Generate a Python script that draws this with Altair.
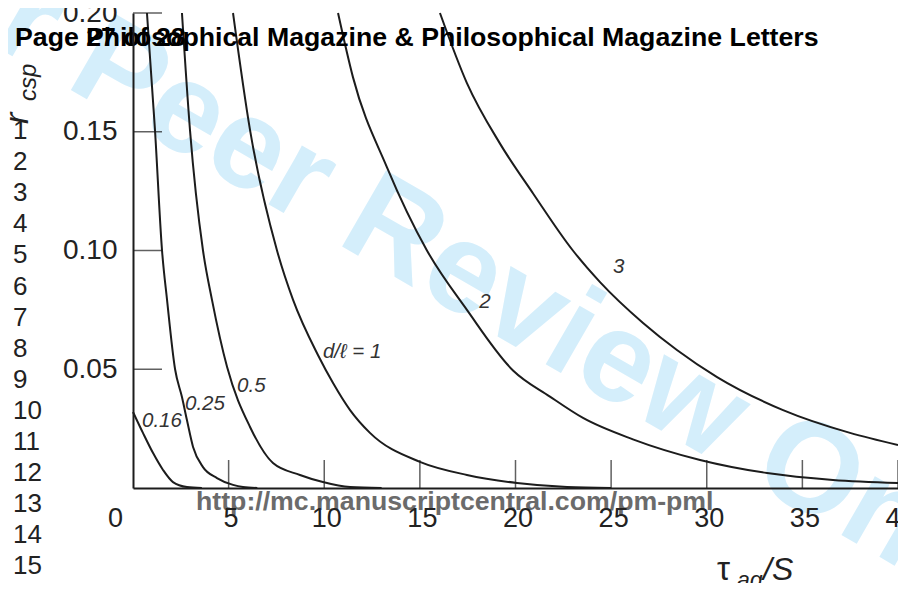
import altair as alt
import pandas as pd

# ---- data ----------------------------------------------------------------
curve_names = ["0.16", "0.25", "0.5", "1", "2", "3"]

x_016 = [0.0, 0.52, 1.05, 1.57, 2.09, 2.82, 3.6]
y_016 = [0.032, 0.0232, 0.0147, 0.0076, 0.0025, 0.0004, 0.0]

x_025 = [0.73, 1.15, 1.52, 1.78, 2.20, 2.56, 2.82, 3.14, 3.66, 4.39, 5.23, 5.75, 6.5]
y_025 = [0.200, 0.1507, 0.0998, 0.0792, 0.0500, 0.0383, 0.0286, 0.0173, 0.0088, 0.0042, 0.0013, 0.0004, 0.0]

x_05 = [2.56, 2.98, 3.66, 4.13, 4.92, 6.12, 7.32, 8.73, 9.93, 11.35, 13.0]
y_05 = [0.200, 0.1507, 0.100, 0.0792, 0.0509, 0.0257, 0.0105, 0.0055, 0.0025, 0.0004, 0.0]

x_1 = [5.23, 6.12, 7.53, 8.37, 9.67, 10.46, 11.35, 12.39, 15.0, 17.46, 20.08, 22.7, 25.0]
y_1 = [0.200, 0.1507, 0.100, 0.0792, 0.056, 0.0442, 0.0328, 0.0232, 0.011, 0.0055, 0.0021, 0.0004, 0.0]

x_2 = [10.72, 11.5, 13.28, 15.37, 17.46, 19.87, 21.8, 23.53, 26.14, 29.65, 33.15, 36.6, 40.0]
y_2 = [0.200, 0.173, 0.135, 0.100, 0.075, 0.0495, 0.0385, 0.0295, 0.0205, 0.0118, 0.0063, 0.0034, 0.0021]

x_3 = [16.05, 17.46, 19.19, 20.92, 23.0, 24.42, 26.67, 28.44, 30.54, 33.99, 37.49, 40.0]
y_3 = [0.200, 0.1705, 0.145, 0.124, 0.100, 0.0867, 0.0695, 0.0581, 0.0467, 0.0328, 0.0232, 0.0181]

curve_x = [x_016, x_025, x_05, x_1, x_2, x_3]
curve_y = [y_016, y_025, y_05, y_1, y_2, y_3]

# curve annotations (anchored in data units)
label_text = ["0.16", "0.25", "0.5", "d/\u2113 = 1", "2", "3"]
label_x = [0.47, 2.72, 5.44, 9.93, 18.1, 25.1]
label_y = [0.0257, 0.0328, 0.0404, 0.0547, 0.0758, 0.0905]

x_label_values = [0, 5, 10, 15, 20, 25, 30, 35, 40]
x_tick_values = [5, 10, 15, 20, 25, 30, 35, 40]
y_tick_values = [0.05, 0.10, 0.15, 0.20]

line_numbers = list(range(1, 16))
header_page = "Page 27 of 28"
header_journal = "Philosophical Magazine & Philosophical Magazine Letters"
footer_url = "http://mc.manuscriptcentral.com/pm-pml"
watermark_text = "For Peer Review Only"

# ---- tables ---------------------------------------------------------------
rows = []
for name, xs, ys in zip(curve_names, curve_x, curve_y):
    for xv, yv in zip(xs, ys):
        rows.append({"curve": name, "x": xv, "y": yv})
curves_df = pd.DataFrame(rows)
labels_df = pd.DataFrame({"t": label_text, "x": label_x, "y": label_y})

FONT = "Liberation Sans"
INK = "#1c1c1c"
W, H = 765, 475

xscale = alt.Scale(domain=[0, 40], nice=False, zero=False)
yscale = alt.Scale(domain=[0, 0.2], nice=False, zero=False)

watermark = alt.Chart(pd.DataFrame({"t": [watermark_text]})).mark_text(
    angle=30, fontSize=128, fontWeight="bold", font=FONT, color="#d4eefb",
    align="center", baseline="middle"
).encode(text="t:N", x=alt.value(310), y=alt.value(248))

lines = alt.Chart(curves_df).mark_line(
    color=INK, strokeWidth=2, interpolate="monotone"
).encode(
    x=alt.X("x:Q", scale=xscale, title=None,
            axis=alt.Axis(values=x_label_values, labelFontSize=27, labelFont=FONT,
                          labelColor="#222222", labelPadding=17, ticks=False, tickSize=0,
                          domainColor=INK, domainWidth=2, grid=False,
                          labelOffset={"condition": {"test": "datum.value === 0", "value": -18},
                                       "value": 2},
                          labelFlush=False, labelOverlap=False, zindex=1)),
    y=alt.Y("y:Q", scale=yscale, title=None,
            axis=alt.Axis(values=y_tick_values, format=".2f", labelFontSize=28, labelFont=FONT,
                          labelColor="#222222", labelPadding=16, ticks=False, tickSize=0,
                          domainColor=INK, domainWidth=2, grid=False,
                          labelFlush=False, labelOverlap=False, zindex=1)),
    detail="curve:N",
)

yticks = alt.Chart(pd.DataFrame({"v": y_tick_values})).mark_tick(
    orient="horizontal", size=29, thickness=1.5, color=INK, xOffset=14.5
).encode(y=alt.Y("v:Q", scale=yscale, title=None), x=alt.value(0))

xticks = alt.Chart(pd.DataFrame({"v": x_tick_values})).mark_tick(
    orient="vertical", size=28, thickness=1.5, color=INK, yOffset=-14
).encode(x=alt.X("v:Q", scale=xscale, title=None), y=alt.value(H))

curve_labels = alt.Chart(labels_df).mark_text(
    align="left", baseline="alphabetic", fontSize=20.5, fontStyle="italic",
    font=FONT, color="#333333"
).encode(x=alt.X("x:Q", scale=xscale, title=None),
         y=alt.Y("y:Q", scale=yscale, title=None), text="t:N")

def txt(s, x, y, **kw):
    return alt.Chart(pd.DataFrame({"t": [s]})).mark_text(font=FONT, **kw).encode(
        text="t:N", x=alt.value(x), y=alt.value(y))

header1 = txt(header_page, -118, 32.5, align="left", baseline="alphabetic",
              fontSize=26.7, fontWeight="bold", color="#000000")
header2 = txt(header_journal, -47, 32.5, align="left", baseline="alphabetic",
              fontSize=26.7, fontWeight="bold", color="#000000")
footer = txt(footer_url, 63, 497, align="left", baseline="alphabetic",
             fontSize=26.7, fontWeight="bold", color="#6b6b6b")

ytitle_r = txt("r", -105, 111, align="left", baseline="alphabetic", angle=270,
               fontSize=34, fontStyle="italic", color="#222222")
ytitle_sub = txt("csp", -97, 88, align="left", baseline="alphabetic", angle=270,
                 fontSize=24, fontStyle="italic", color="#222222")

xtitle_tau = txt("\u03c4", 584, 567, align="left", baseline="alphabetic",
                 fontSize=33, color="#222222")
xtitle_sub = txt("ag", 604, 575, align="left", baseline="alphabetic",
                 fontSize=23, fontStyle="italic", color="#222222")
xtitle_s = txt("/S", 630, 567, align="left", baseline="alphabetic",
               fontSize=32, fontStyle="italic", color="#222222")

linenums = alt.Chart(pd.DataFrame({"n": line_numbers})).transform_calculate(
    py="118 + 31.1 * (datum.n - 1)"
).mark_text(align="left", baseline="middle", fontSize=26, font=FONT, color="#222222").encode(
    text="n:N", x=alt.value(-120), y=alt.Y("py:Q", scale=None, axis=None, title=None))

chart = alt.layer(
    watermark, lines, yticks, xticks, curve_labels, linenums,
    ytitle_r, ytitle_sub, xtitle_tau, xtitle_sub, xtitle_s,
    header1, header2, footer,
).properties(
    width=W, height=H,
    padding={"left": 125, "top": 5, "right": 0, "bottom": 95},
    autosize=alt.AutoSizeParams(type="none"),
    background="white",
).configure_view(stroke=None)

chart.save("out.html", embed_options={"renderer": "svg", "actions": False})
